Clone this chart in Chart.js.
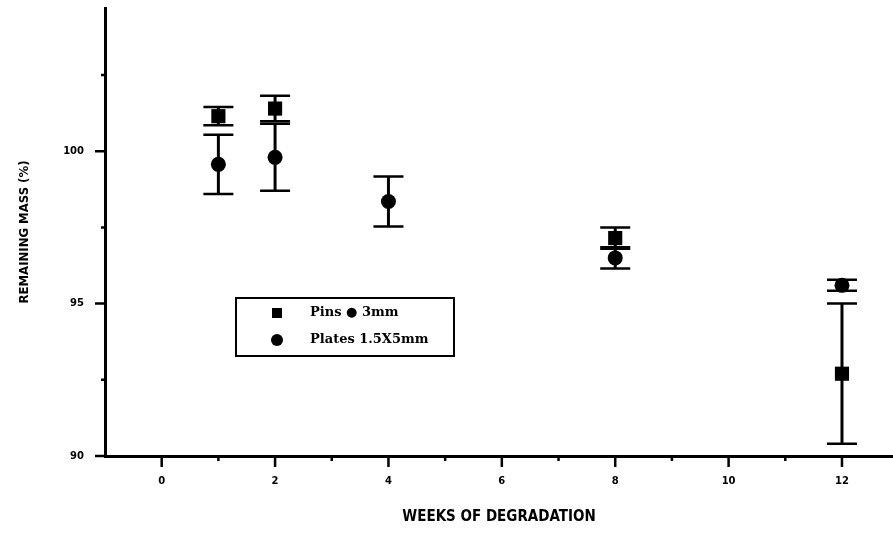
<!DOCTYPE html>
<html>
<head>
<meta charset="utf-8">
<script src="https://cdn.jsdelivr.net/npm/chart.js@4.4.1/dist/chart.umd.min.js"></script>
<style>
  html, body { margin: 0; padding: 0; background: #fff; }
</style>
</head>
<body>
<canvas id="myChart" width="893" height="553"></canvas>
<script>
// data
const weeks = [1, 2, 4, 8, 12];
const pinsMass = [101.15, 101.4, null, 97.15, 92.7];
const pinsErr = [0.3, 0.42, null, 0.35, 2.3];
const platesMass = [99.57, 99.8, 98.35, 96.5, 95.6];
const platesErr = [0.97, 1.1, 0.82, 0.35, 0.18];

const xTicks = [0, 1, 2, 3, 4, 5, 6, 7, 8, 9, 10, 11, 12];
const xLabels = [0, 2, 4, 6, 8, 10, 12];
const yTicks = [90, 92.5, 95, 97.5, 100, 102.5];
const yLabels = [90, 95, 100];
const seriesNames = ["Pins \u25CF 3mm", "Plates 1.5X5mm"];

const toPoints = (ys) => weeks.map((w, i) => ({ x: w, y: ys[i] })).filter(p => p.y !== null);

// vertical error bars with caps, drawn under the markers
const errorBars = {
  id: "errorBars",
  beforeDatasetsDraw(chart) {
    const { ctx } = chart;
    const yScale = chart.scales.y;
    const errs = [pinsErr, platesErr];
    ctx.save();
    ctx.strokeStyle = "#000";
    chart.data.datasets.forEach((ds, di) => {
      const meta = chart.getDatasetMeta(di);
      const errList = errs[di].filter(e => e !== null);
      meta.data.forEach((pt, i) => {
        const v = ds.data[i].y;
        const e = errList[i];
        const yTop = yScale.getPixelForValue(v + e);
        const yBot = yScale.getPixelForValue(v - e);
        ctx.lineWidth = 3;
        ctx.beginPath();
        ctx.moveTo(pt.x, yTop);
        ctx.lineTo(pt.x, yBot);
        ctx.stroke();
        ctx.lineWidth = 2.5;
        ctx.beginPath();
        ctx.moveTo(pt.x - 15, yTop);
        ctx.lineTo(pt.x + 15, yTop);
        ctx.moveTo(pt.x - 15, yBot);
        ctx.lineTo(pt.x + 15, yBot);
        ctx.stroke();
      });
    });
    ctx.restore();
  }
};

// outward tick marks, long for labelled values, short otherwise
const axisTicks = {
  id: "axisTicks",
  afterDraw(chart) {
    const { ctx, chartArea } = chart;
    const { x, y } = chart.scales;
    ctx.save();
    ctx.strokeStyle = "#000";
    ctx.lineWidth = 2.5;
    ctx.beginPath();
    xTicks.forEach(v => {
      const px = x.getPixelForValue(v);
      const len = xLabels.includes(v) ? 11 : 5;
      ctx.moveTo(px, chartArea.bottom);
      ctx.lineTo(px, chartArea.bottom + len);
    });
    yTicks.forEach(v => {
      const py = y.getPixelForValue(v);
      const len = yLabels.includes(v) ? 10 : 4;
      ctx.moveTo(chartArea.left, py);
      ctx.lineTo(chartArea.left - len, py);
    });
    ctx.stroke();
    ctx.restore();
  }
};

// boxed legend sitting inside the plot
const boxLegend = {
  id: "boxLegend",
  afterDraw(chart) {
    const { ctx } = chart;
    ctx.save();
    ctx.strokeStyle = "#000";
    ctx.lineWidth = 2;
    ctx.strokeRect(236, 298, 218, 58);
    ctx.fillStyle = "#000";
    ctx.fillRect(272, 308, 10, 10);
    ctx.beginPath();
    ctx.arc(277, 340, 6, 0, Math.PI * 2);
    ctx.fill();
    ctx.font = 'bold 13px "DejaVu Serif", serif';
    ctx.textBaseline = "middle";
    ctx.fillText(seriesNames[0], 310, 313);
    ctx.fillText(seriesNames[1], 310, 340);
    ctx.restore();
  }
};

const noPad = (s) => { s.paddingTop = 0; s.paddingBottom = 0; s.paddingLeft = 0; s.paddingRight = 0; };

const tickFont = { family: '"DejaVu Sans", sans-serif', size: 10, weight: "bold" };
const titleFont = { family: '"DejaVu Sans Condensed", "DejaVu Sans", sans-serif', weight: "bold" };

new Chart(document.getElementById("myChart"), {
  type: "scatter",
  data: {
    datasets: [
      {
        label: seriesNames[0],
        data: toPoints(pinsMass),
        pointStyle: "rect",
        pointRadius: 10,
        backgroundColor: "#000",
        borderColor: "#000",
        borderWidth: 0
      },
      {
        label: seriesNames[1],
        data: toPoints(platesMass),
        pointStyle: "circle",
        pointRadius: 7.5,
        backgroundColor: "#000",
        borderColor: "#000",
        borderWidth: 0
      }
    ]
  },
  options: {
    responsive: false,
    animation: false,
    layout: { autoPadding: false, padding: { top: 8, right: 0, left: 0, bottom: 0 } },
    plugins: { legend: { display: false }, tooltip: { enabled: false } },
    scales: {
      x: {
        type: "linear",
        min: -1,
        max: 12.9,
        afterFit: (s) => { s.height = 97; noPad(s); },
        afterBuildTicks: (s) => { s.ticks = xTicks.map(v => ({ value: v })); },
        grid: { drawOnChartArea: false, drawTicks: false },
        border: { display: true, color: "#000", width: 3 },
        ticks: {
          autoSkip: false,
          maxRotation: 0,
          padding: 19,
          color: "#000",
          font: tickFont,
          callback: (v) => (xLabels.includes(v) ? String(v) : "")
        },
        title: {
          display: true,
          text: "WEEKS OF DEGRADATION",
          color: "#000",
          font: { ...titleFont, size: 15 },
          padding: { top: 0, bottom: 27 }
        }
      },
      y: {
        type: "linear",
        min: 90,
        max: 104.7,
        afterFit: (s) => { s.width = 105; noPad(s); },
        afterBuildTicks: (s) => { s.ticks = yTicks.map(v => ({ value: v })); },
        grid: { drawOnChartArea: false, drawTicks: false },
        border: { display: true, color: "#000", width: 3 },
        ticks: {
          padding: 21,
          color: "#000",
          font: tickFont,
          callback: (v) => (yLabels.includes(v) ? String(v) : "")
        },
        title: {
          display: true,
          text: "REMAINING MASS (%)",
          color: "#000",
          font: { ...titleFont, size: 13 },
          padding: { top: 17, bottom: 0 }
        }
      }
    }
  },
  plugins: [errorBars, axisTicks, boxLegend]
});
</script>
</body>
</html>
